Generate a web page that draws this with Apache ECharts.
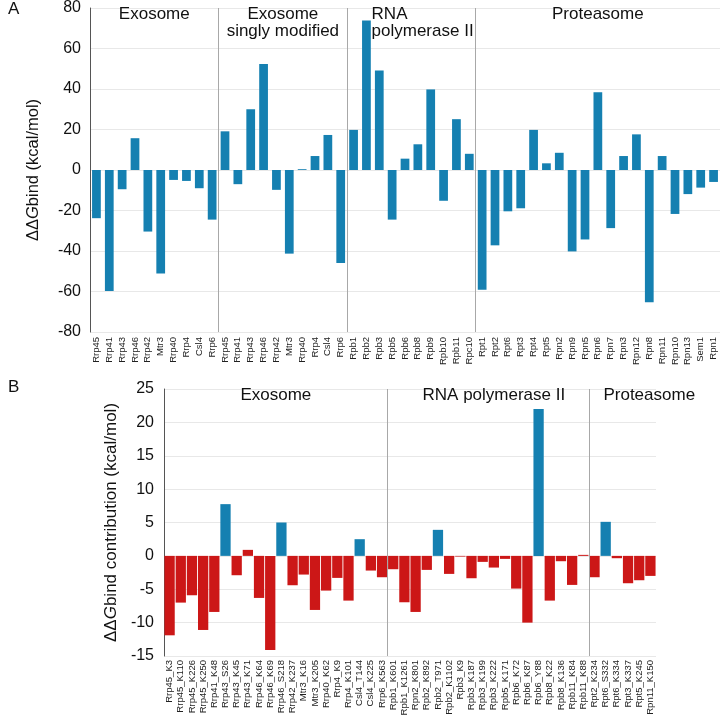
<!DOCTYPE html>
<html>
<head>
<meta charset="utf-8">
<script src="https://cdn.jsdelivr.net/npm/echarts@6/dist/echarts.min.js"></script>
<style>
html,body{margin:0;padding:0;background:#fff;}
#c{width:720px;height:720px;}
</style>
</head>
<body>
<div id="c"></div>
<script>
// ---------- Panel A data ----------
const exoCats = ['Rrp45','Rrp41','Rrp43','Rrp46','Rrp42','Mtr3','Rrp40','Rrp4','Csl4','Rrp6'];
const exoVals = [-23.8,-59.8,-9.5,15.7,-30.4,-51.1,-4.9,-5.4,-9.0,-24.5];
const singleCats = ['Rrp45','Rrp41','Rrp43','Rrp46','Rrp42','Mtr3','Rrp40','Rrp4','Csl4','Rrp6'];
const singleVals = [19.1,-7.0,30.0,52.4,-9.8,-41.3,0.4,6.9,17.3,-45.9];
const polCats = ['Rpb1','Rpb2','Rpb3','Rpb5','Rpb6','Rpb8','Rpb9','Rpb10','Rpb11','Rpc10'];
const polVals = [19.8,73.8,49.1,-24.5,5.6,12.7,39.8,-15.2,25.1,8.0];
const protCats = ['Rpt1','Rpt2','Rpt6','Rpt3','Rpt4','Rpt5','Rpn2','Rpn9','Rpn5','Rpn6','Rpn7','Rpn3','Rpn12','Rpn8','Rpn11','Rpn10','Rpn13','Sem1','Rpn1'];
const protVals = [-59.1,-37.2,-20.4,-18.9,19.8,3.3,8.5,-40.2,-34.3,38.4,-28.7,6.9,17.6,-65.3,6.9,-21.7,-11.9,-8.7,-5.9];
const groupNamesA = ['Exosome','Exosome\nsingly modified','RNA\npolymerase II','Proteasome'];
const yTicksA = {min:-80, max:80, interval:20};

// ---------- Panel B data ----------
const exoSites = ['Rrp45_K3','Rrp45_K110','Rrp45_K226','Rrp45_K250','Rrp41_K48','Rrp43_S26','Rrp43_K45','Rrp43_K71','Rrp46_K64','Rrp46_K69','Rrp46_S218','Rrp42_K237','Mtr3_K16','Mtr3_K205','Rrp40_K62','Rrp4_K9','Rrp4_K101','Csl4_T144','Csl4_K225','Rrp6_K563'];
const exoContrib = [-11.9,-7.0,-5.9,-11.1,-8.4,7.75,-2.9,0.9,-6.3,-14.1,5.0,-4.4,-2.8,-8.1,-5.2,-3.3,-6.7,2.5,-2.2,-3.2];
const polSites = ['Rpb1_K601','Rpb1_K1261','Rpn2_K801','Rpb2_K892','Rpb2_T971','Rpb2_K1102','Rpb3_K9','Rpb3_K187','Rpb3_K199','Rpb3_K222','Rpb5_K171','Rpb6_K72','Rpb6_K87','Rpb6_Y88','Rpb8_K22','Rpb8_K136','Rpb11_K84','Rpb11_K88'];
const polContrib = [-2.0,-6.95,-8.4,-2.1,3.9,-2.7,-0.1,-3.35,-0.9,-1.75,-0.45,-4.9,-10.0,22.0,-6.7,-0.8,-4.35,0.15];
const protSites = ['Rpt2_K234','Rpt6_S332','Rpt6_K334','Rpt3_K337','Rpt5_K245','Rpn11_K150'];
const protContrib = [-3.2,5.1,-0.35,-4.1,-3.65,-3.0];
const groupNamesB = ['Exosome','RNA polymerase II','Proteasome'];
const yTicksB = {min:-15, max:25, interval:5};

// ---------- build ----------
const BLUE = '#1580b1', RED = '#cc1717';
const FONT = 'Liberation Sans, Arial, sans-serif';
const catsA = [...exoCats, ...singleCats, ...polCats, ...protCats];
const valsA = [...exoVals, ...singleVals, ...polVals, ...protVals];
const sizesA = [exoCats.length, singleCats.length, polCats.length, protCats.length];
const catsB = [...exoSites, ...polSites, ...protSites];
const valsB = [...exoContrib, ...polContrib, ...protContrib];
const sizesB = [exoSites.length, polSites.length, protSites.length];

function boundaries(sizes){ const b=[]; let s=0; for(let i=0;i<sizes.length-1;i++){ s+=sizes[i]; b.push(s-0.5);} return b; }
function centers(sizes){ const c=[]; let s=0; for(const n of sizes){ c.push(s + n/2 - 0.5); s+=n;} return c; }

const cA = centers(sizesA), cB = centers(sizesB);
const labelsA = [
  {coord:[cA[0], yTicksA.max], name:groupNamesA[0], align:'center'},
  {coord:[cA[1], yTicksA.max], name:groupNamesA[1], align:'center'},
  {coord:[sizesA[0]+sizesA[1]+1.4, yTicksA.max], name:groupNamesA[2], align:'left'},
  {coord:[cA[3], yTicksA.max], name:groupNamesA[3], align:'center'}
];
const labelsB = [
  {coord:[cB[0], yTicksB.max], name:groupNamesB[0], align:'center'},
  {coord:[cB[1]+0.5, yTicksB.max], name:groupNamesB[1], align:'center'},
  {coord:[sizesB[0]+sizesB[1]+0.8, yTicksB.max], name:groupNamesB[2], align:'left'}
];

function mp(list){
  return {
    symbol:'rect', symbolSize:0, silent:true, animation:false,
    data: list.map(l => ({
      coord:l.coord, value:l.name,
      label:{show:true, position:'bottom', distance:-2, formatter:l.name, align:l.align,
        fontSize:17, lineHeight:17, color:'#111', fontFamily:FONT}
    }))
  };
}
function ml(b){
  return {symbol:['none','none'], silent:true, animation:false, label:{show:false},
    lineStyle:{color:'#a8a8a8', width:1, type:'solid'},
    data: b.map(x => ({xAxis:x}))};
}

const residueColor = name => /_[KR]\d/.test(name) ? RED : BLUE;

const chart = echarts.init(document.getElementById('c'), null, {renderer:'canvas'});
chart.setOption({
  animation:false,
  backgroundColor:'#fff',
  textStyle:{fontFamily:FONT},
  title:[
    {text:'A', left:3, top:-4, textStyle:{fontSize:17, fontWeight:'normal', color:'#111', fontFamily:FONT}},
    {text:'B', left:3, top:374, textStyle:{fontSize:17, fontWeight:'normal', color:'#111', fontFamily:FONT}}
  ],
  grid:[
    {left:90, right:0, top:6, height:326, containLabel:false},
    {left:164, right:64, top:389, height:267, containLabel:false}
  ],
  xAxis:[
    {type:'category', gridIndex:0, data:catsA, axisLine:{show:false, onZero:false}, axisTick:{show:false},
      axisLabel:{interval:0, rotate:90, fontSize:9.5, margin:5, color:'#222', fontFamily:FONT}},
    {type:'value', gridIndex:0, min:-0.5, max:catsA.length-0.5, show:false, axisLine:{onZero:false}},
    {type:'category', gridIndex:1, data:catsB, axisLine:{show:false, onZero:false}, axisTick:{show:false},
      axisLabel:{interval:0, rotate:90, fontSize:9.5, margin:4, color:'#222', fontFamily:FONT}},
    {type:'value', gridIndex:1, min:-0.5, max:catsB.length-0.5, show:false, axisLine:{onZero:false}}
  ],
  yAxis:[
    {type:'value', gridIndex:0, min:yTicksA.min, max:yTicksA.max, interval:yTicksA.interval,
      name:'{n|ΔΔ}{i|G}{n|bind (kcal/mol)}', nameLocation:'middle', nameGap:48,
      nameTextStyle:{rich:{n:{fontSize:16.5, color:'#111', fontFamily:FONT}, i:{fontSize:16.5, fontStyle:'italic', color:'#111', fontFamily:FONT}}},
      axisLine:{show:true, onZero:false, lineStyle:{color:'#555', width:1}}, axisTick:{show:false},
      axisLabel:{fontSize:16, color:'#111', margin:9, fontFamily:FONT},
      splitLine:{lineStyle:{color:'#e8e8e8'}}},
    {type:'value', gridIndex:1, min:yTicksB.min, max:yTicksB.max, interval:yTicksB.interval,
      name:'{n|ΔΔ}{i|G}{n|bind contribution (kcal/mol)}', nameLocation:'middle', nameGap:44,
      nameTextStyle:{rich:{n:{fontSize:17, color:'#111', fontFamily:FONT}, i:{fontSize:17, fontStyle:'italic', color:'#111', fontFamily:FONT}}},
      axisLine:{show:true, onZero:false, lineStyle:{color:'#555', width:1}}, axisTick:{show:false},
      axisLabel:{fontSize:16, color:'#111', margin:10, fontFamily:FONT},
      splitLine:{lineStyle:{color:'#e8e8e8'}}}
  ],
  series:[
    {type:'bar', xAxisIndex:0, yAxisIndex:0, data:valsA, barCategoryGap:'32%', itemStyle:{color:BLUE}},
    {type:'scatter', xAxisIndex:1, yAxisIndex:0, data:[], silent:true, markLine:ml(boundaries(sizesA)), markPoint:mp(labelsA)},
    {type:'bar', xAxisIndex:2, yAxisIndex:1, barCategoryGap:'8%',
      data: valsB.map((v,i) => ({value:v, itemStyle:{color:residueColor(catsB[i])}}))},
    {type:'scatter', xAxisIndex:3, yAxisIndex:1, data:[], silent:true, markLine:ml(boundaries(sizesB)), markPoint:mp(labelsB)}
  ]
});
</script>
</body>
</html>
